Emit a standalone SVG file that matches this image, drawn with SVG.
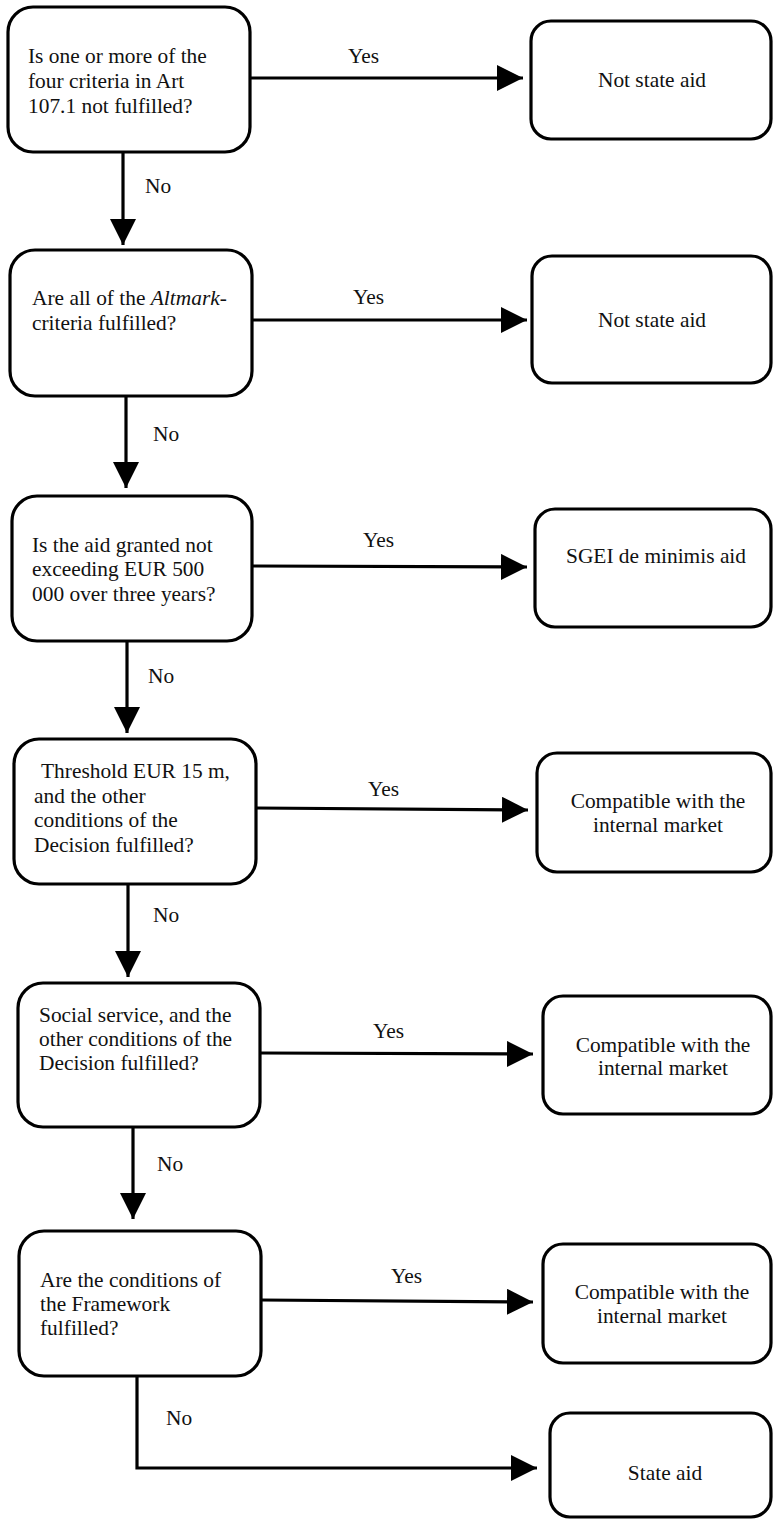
<svg xmlns="http://www.w3.org/2000/svg" width="773" height="1519" viewBox="0 0 773 1519" font-family="Liberation Serif, Times New Roman, serif" font-size="21.4">
<defs>
<style>
.box{fill:#fff;stroke:#000;stroke-width:3.2}
.t{fill:#111}
.c{text-anchor:middle}
.ln{fill:none;stroke:#000;stroke-width:3.2}
</style>
<marker id="ah" markerUnits="userSpaceOnUse" markerWidth="26" markerHeight="26" refX="25" refY="12.5" orient="auto" viewBox="0 0 25 25">
<path d="M0,0 L25,12.5 L0,25 z" fill="#000"/>
</marker>
</defs>
<g id="connectors">
<line class="ln" x1="250" y1="78" x2="523" y2="78" marker-end="url(#ah)"/>
<line class="ln" x1="123" y1="152" x2="123" y2="245" marker-end="url(#ah)"/>
<line class="ln" x1="252" y1="320" x2="527" y2="320" marker-end="url(#ah)"/>
<line class="ln" x1="126" y1="396" x2="126" y2="488" marker-end="url(#ah)"/>
<line class="ln" x1="252" y1="566" x2="527" y2="567" marker-end="url(#ah)"/>
<line class="ln" x1="127" y1="641" x2="127" y2="733" marker-end="url(#ah)"/>
<line class="ln" x1="256" y1="808" x2="528" y2="810" marker-end="url(#ah)"/>
<line class="ln" x1="128" y1="884" x2="128" y2="977" marker-end="url(#ah)"/>
<line class="ln" x1="260" y1="1053" x2="533" y2="1054" marker-end="url(#ah)"/>
<line class="ln" x1="133" y1="1127" x2="133" y2="1219" marker-end="url(#ah)"/>
<line class="ln" x1="261" y1="1300" x2="533" y2="1302" marker-end="url(#ah)"/>
<path class="ln" d="M137,1376 L137,1468 L537,1468" marker-end="url(#ah)"/>
<text class="t" x="348" y="63">Yes</text>
<text class="t" x="145" y="193">No</text>
<text class="t" x="353" y="304">Yes</text>
<text class="t" x="153" y="441">No</text>
<text class="t" x="363" y="547">Yes</text>
<text class="t" x="148" y="683">No</text>
<text class="t" x="368" y="796">Yes</text>
<text class="t" x="153" y="922">No</text>
<text class="t" x="373" y="1038">Yes</text>
<text class="t" x="157" y="1171">No</text>
<text class="t" x="391" y="1283">Yes</text>
<text class="t" x="166" y="1425">No</text>
</g>
<g id="q1">
<rect class="box" x="8" y="7" width="242" height="145" rx="25"/>
<text class="t" x="28" y="63">Is one or more of the</text>
<text class="t" x="28" y="88">four criteria in Art</text>
<text class="t" x="28" y="113">107.1 not fulfilled?</text>
</g>
<g id="r1">
<rect class="box" x="531" y="21" width="240" height="118" rx="20"/>
<text class="t c" x="652" y="87">Not state aid</text>
</g>
<g id="q2">
<rect class="box" x="10" y="250" width="242" height="146" rx="25"/>
<text class="t" x="32" y="305">Are all of the <tspan font-style="italic">Altmark</tspan>-</text>
<text class="t" x="32" y="330">criteria fulfilled?</text>
</g>
<g id="r2">
<rect class="box" x="532" y="256" width="239" height="127" rx="20"/>
<text class="t c" x="652" y="327">Not state aid</text>
</g>
<g id="q3">
<rect class="box" x="12" y="496" width="240" height="145" rx="25"/>
<text class="t" x="32" y="552">Is the aid granted not</text>
<text class="t" x="32" y="576">exceeding EUR 500</text>
<text class="t" x="32" y="601">000 over three years?</text>
</g>
<g id="r3">
<rect class="box" x="535" y="509" width="236" height="118" rx="20"/>
<text class="t c" x="656" y="563">SGEI de minimis aid</text>
</g>
<g id="q4">
<rect class="box" x="14" y="739" width="242" height="145" rx="25"/>
<text class="t" x="41" y="778">Threshold EUR 15 m,</text>
<text class="t" x="34" y="803">and the other</text>
<text class="t" x="34" y="827">conditions of the</text>
<text class="t" x="34" y="852">Decision fulfilled?</text>
</g>
<g id="r4">
<rect class="box" x="537" y="753" width="234" height="119" rx="20"/>
<text class="t c" x="658" y="808">Compatible with the</text>
<text class="t c" x="658" y="832">internal market</text>
</g>
<g id="q5">
<rect class="box" x="18" y="983" width="242" height="144" rx="25"/>
<text class="t" x="39" y="1022">Social service, and the</text>
<text class="t" x="39" y="1046">other conditions of the</text>
<text class="t" x="39" y="1070">Decision fulfilled?</text>
</g>
<g id="r5">
<rect class="box" x="543" y="996" width="228" height="118" rx="20"/>
<text class="t c" x="663" y="1052">Compatible with the</text>
<text class="t c" x="663" y="1075">internal market</text>
</g>
<g id="q6">
<rect class="box" x="19" y="1231" width="242" height="145" rx="25"/>
<text class="t" x="40" y="1287">Are the conditions of</text>
<text class="t" x="40" y="1311">the Framework</text>
<text class="t" x="40" y="1335">fulfilled?</text>
</g>
<g id="r6">
<rect class="box" x="543" y="1244" width="228" height="119" rx="20"/>
<text class="t c" x="662" y="1299">Compatible with the</text>
<text class="t c" x="662" y="1323">internal market</text>
</g>
<g id="r7">
<rect class="box" x="550" y="1413" width="221" height="104" rx="20"/>
<text class="t c" x="665" y="1480">State aid</text>
</g>
</svg>
